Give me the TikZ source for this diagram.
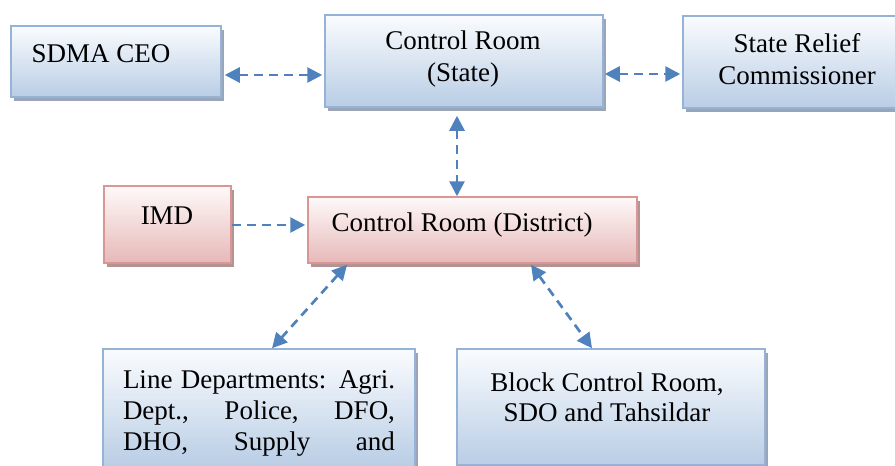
\documentclass[tikz,border=0pt]{standalone}
\usepackage{fontspec}
\setmainfont{Liberation Serif}
\usetikzlibrary{arrows.meta,shadows}
\definecolor{bborder}{HTML}{95B3D7}
\definecolor{btop}{HTML}{FAFCFE}
\definecolor{bbot}{HTML}{B9CDE5}
\definecolor{bshadow}{HTML}{9AA6B8}
\definecolor{pborder}{HTML}{D99694}
\definecolor{ptop}{HTML}{FEF9F9}
\definecolor{pbot}{HTML}{E6B9B8}
\definecolor{pshadow}{HTML}{B39393}
\definecolor{arrowblue}{HTML}{4F81BD}
\tikzset{
  boxbase/.style={rectangle, line width=1.5pt, inner sep=0pt},
  bluebox/.style={boxbase, draw=bborder, top color=btop, bottom color=bbot,
    general shadow={fill=bshadow, shadow xshift=3pt, shadow yshift=-4pt}},
  pinkbox/.style={boxbase, draw=pborder, top color=ptop, bottom color=pbot,
    general shadow={fill=pshadow, shadow xshift=3pt, shadow yshift=-4pt}},
  txt/.style={inner sep=0pt, align=center, font=\fontsize{27pt}{32pt}\selectfont},
  link/.style={draw=arrowblue, line width=2.7pt, dash pattern=on 9pt off 6pt},
  twoway/.style={link, {Triangle[length=15pt,width=15pt]}-{Triangle[length=15pt,width=15pt]}},
  oneway/.style={link, -{Triangle[length=15pt,width=15pt]}}
}
\begin{document}
\begin{tikzpicture}[x=1pt,y=-1pt]
\useasboundingbox (0,0) rectangle (895,466);
\clip (0,0) rectangle (895,466);
% boxes
\node[bluebox, minimum width=210pt, minimum height=71pt] (sdma) at (116,61.5) {};
\node[bluebox, minimum width=278pt, minimum height=92pt] (state) at (464,61) {};
\node[bluebox, minimum width=228pt, minimum height=92pt] (src) at (797,62) {};
\node[pinkbox, minimum width=127pt, minimum height=77pt] (imd) at (167.5,224.5) {};
\node[pinkbox, minimum width=329pt, minimum height=66pt] (district) at (472.5,230) {};
\node[bluebox, minimum width=312pt, minimum height=118pt] (line) at (259,408) {};
\node[bluebox, minimum width=308pt, minimum height=116pt] (block) at (611,407) {};
% texts
\node[txt] (tsdma) at (101,54) {SDMA CEO};
\node[txt] (tstate) at (463,59) {Control Room\\(State)};
\node[txt] (tsrc) at (797,59) {State Relief\\Commissioner};
\node[txt] (timd) at (167,216) {IMD};
\node[txt] (tdistrict) at (462,225) {Control Room (District)};
\node[txt, font=\fontsize{27pt}{31pt}\selectfont, align=left] (tline) at (259,413)
  {\makebox[272pt][s]{Line Departments: Agri.}\\\makebox[272pt][s]{Dept., Police, DFO,}\\\makebox[272pt][s]{DHO, Supply and}};
\node[txt, font=\fontsize{27pt}{30pt}\selectfont] (tblock) at (607,397) {Block Control Room,\\SDO and Tahsildar};
% connectors
\draw[twoway] ([xshift=3pt,yshift=-13.5pt]sdma.east) -- ([xshift=-2pt,yshift=-14pt]state.west);
\draw[twoway] ([xshift=1pt,yshift=-13pt]state.east) -- ([xshift=-2pt,yshift=-12pt]src.west);
\draw[twoway] ([xshift=-7pt,yshift=-8pt]state.south) -- ([xshift=-15.5pt]district.north);
\draw[oneway] ([yshift=-0.5pt]imd.east) -- ([xshift=-2pt,yshift=5pt]district.west);
\draw[twoway] ([xshift=-125.5pt,yshift=-1pt]district.south) -- ([xshift=13pt]line.north);
\draw[twoway] ([xshift=58.5pt,yshift=-1pt]district.south) -- ([xshift=-19pt]block.north);
\end{tikzpicture}
\end{document}
